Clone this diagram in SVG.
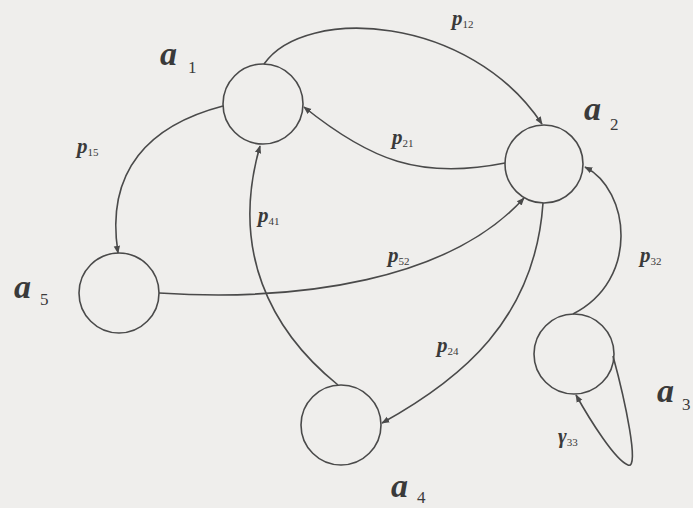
<svg xmlns="http://www.w3.org/2000/svg" width="693" height="508" viewBox="0 0 693 508">
<style>
.node{fill:none;stroke:#4a4a4a;stroke-width:1.6}
.edge{fill:none;stroke:#4a4a4a;stroke-width:1.6;marker-end:url(#ah)}
.na{font-family:"Liberation Serif",serif;font-style:italic;font-weight:bold;font-size:34px;fill:#3a3a3a}
.ns{font-family:"Liberation Serif",serif;font-size:17px;fill:#3a3a3a}
.ep{font-family:"Liberation Serif",serif;font-style:italic;font-weight:bold;font-size:21px;fill:#3a3a3a}
.es{font-family:"Liberation Serif",serif;font-style:normal;font-weight:normal;font-size:11px;fill:#3a3a3a}
</style>
<defs>
<marker id="ah" viewBox="0 0 10 10" refX="9" refY="5" markerWidth="8" markerHeight="8" markerUnits="userSpaceOnUse" orient="auto">
<path d="M0,1 L10,5 L0,9 Z" fill="#4a4a4a"/>
</marker>
</defs>
<rect width="693" height="508" fill="#efeeec"/>
<g id="connectors">
<path class="edge" d="M264,64 C305,5 470,15 542,124"/>
<path class="edge" d="M505,163 C420,180 370,160 304,107"/>
<path class="edge" d="M223,106 C150,125 105,170 118,253"/>
<path class="edge" d="M338,385 C270,330 230,250 260,146"/>
<path class="edge" d="M159,293 C300,302 450,280 524,198"/>
<path class="edge" d="M543,203 C535,320 460,380 382,423"/>
<path class="edge" d="M573,314 C640,280 630,190 585,167"/>
<path class="edge" d="M613,356 C625,400 640,470 628,465 C615,460 590,420 576,395"/>
<text class="ep" x="452" y="25">p<tspan class="es" dy="3">12</tspan></text>
<text class="ep" x="392" y="144">p<tspan class="es" dy="3">21</tspan></text>
<text class="ep" x="77" y="153">p<tspan class="es" dy="3">15</tspan></text>
<text class="ep" x="258" y="222">p<tspan class="es" dy="3">41</tspan></text>
<text class="ep" x="388" y="262">p<tspan class="es" dy="3">52</tspan></text>
<text class="ep" x="640" y="262">p<tspan class="es" dy="3">32</tspan></text>
<text class="ep" x="437" y="352">p<tspan class="es" dy="3">24</tspan></text>
<text class="ep" x="558" y="443">γ<tspan class="es" dy="3">33</tspan></text>
</g>
<g id="a1"><circle class="node" cx="263" cy="104" r="40"/><text class="na" x="160" y="65">a</text><text class="ns" x="188" y="73">1</text></g>
<g id="a2"><circle class="node" cx="544" cy="164" r="39"/><text class="na" x="584" y="120">a</text><text class="ns" x="610" y="130">2</text></g>
<g id="a3"><circle class="node" cx="574" cy="354" r="40"/><text class="na" x="657" y="402">a</text><text class="ns" x="682" y="410">3</text></g>
<g id="a4"><circle class="node" cx="341" cy="425" r="40"/><text class="na" x="391" y="497">a</text><text class="ns" x="417" y="503">4</text></g>
<g id="a5"><circle class="node" cx="119" cy="293" r="40"/><text class="na" x="14" y="298">a</text><text class="ns" x="40" y="305">5</text></g>
</svg>
